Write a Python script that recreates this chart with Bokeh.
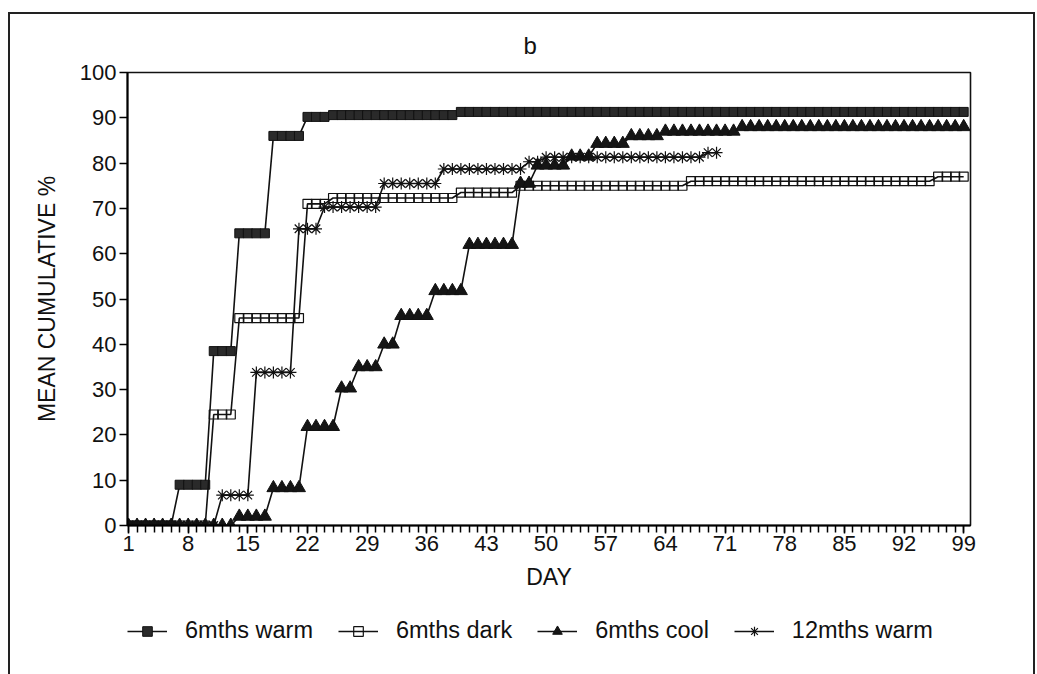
from bokeh.plotting import figure
from bokeh.layouts import column
from bokeh.models import FixedTicker, Legend, LegendItem, Range1d
from bokeh.embed import file_html
from bokeh.resources import INLINE

# ---------------- data ----------------
days = list(range(1, 100))
days_12 = list(range(1, 71))

warm_6m = [0, 0, 0, 0, 0, 0, 9, 9, 9, 9,
           38.5, 38.5, 38.5, 64.5, 64.5, 64.5, 64.5, 86, 86, 86,
           86, 90.2, 90.2, 90.2, 90.6, 90.6, 90.6, 90.6, 90.6, 90.6,
           90.6, 90.6, 90.6, 90.6, 90.6, 90.6, 90.6, 90.6, 90.6, 91.3,
           91.3, 91.3, 91.3, 91.3, 91.3, 91.3, 91.3, 91.3, 91.3, 91.3,
           91.3, 91.3, 91.3, 91.3, 91.3, 91.3, 91.3, 91.3, 91.3, 91.3,
           91.3, 91.3, 91.3, 91.3, 91.3, 91.3, 91.3, 91.3, 91.3, 91.3,
           91.3, 91.3, 91.3, 91.3, 91.3, 91.3, 91.3, 91.3, 91.3, 91.3,
           91.3, 91.3, 91.3, 91.3, 91.3, 91.3, 91.3, 91.3, 91.3, 91.3,
           91.3, 91.3, 91.3, 91.3, 91.3, 91.3, 91.3, 91.3, 91.3]

dark_6m = [0, 0, 0, 0, 0, 0, 0, 0, 0, 0,
           24.5, 24.5, 24.5, 45.8, 45.8, 45.8, 45.8, 45.8, 45.8, 45.8,
           45.8, 71, 71, 71, 72.3, 72.3, 72.3, 72.3, 72.3, 72.3,
           72.3, 72.3, 72.3, 72.3, 72.3, 72.3, 72.3, 72.3, 72.3, 73.5,
           73.5, 73.5, 73.5, 73.5, 73.5, 73.5, 75, 75, 75, 75,
           75, 75, 75, 75, 75, 75, 75, 75, 75, 75,
           75, 75, 75, 75, 75, 75, 76, 76, 76, 76,
           76, 76, 76, 76, 76, 76, 76, 76, 76, 76,
           76, 76, 76, 76, 76, 76, 76, 76, 76, 76,
           76, 76, 76, 76, 76, 77, 77, 77, 77]

cool_6m = [0, 0, 0, 0, 0, 0, 0, 0, 0, 0,
           0, 0, 0, 2, 2, 2, 2, 8.3, 8.3, 8.3,
           8.3, 21.8, 21.8, 21.8, 21.8, 30.3, 30.3, 35, 35, 35,
           40, 40, 46.3, 46.3, 46.3, 46.3, 51.8, 51.8, 51.8, 51.8,
           62, 62, 62, 62, 62, 62, 75.5, 75.5, 79.5, 79.5,
           79.5, 79.5, 81.5, 81.5, 81.5, 84.3, 84.3, 84.3, 84.3, 86,
           86, 86, 86, 87, 87, 87, 87, 87, 87, 87,
           87, 87, 88, 88, 88, 88, 88, 88, 88, 88,
           88, 88, 88, 88, 88, 88, 88, 88, 88, 88,
           88, 88, 88, 88, 88, 88, 88, 88, 88]

warm_12m = [0, 0, 0, 0, 0, 0, 0, 0, 0, 0,
            0, 6.7, 6.7, 6.7, 6.7, 33.8, 33.8, 33.8, 33.8, 33.8,
            65.5, 65.5, 65.5, 70.3, 70.3, 70.3, 70.3, 70.3, 70.3, 70.3,
            75.5, 75.5, 75.5, 75.5, 75.5, 75.5, 75.5, 78.7, 78.7, 78.7,
            78.7, 78.7, 78.7, 78.7, 78.7, 78.7, 78.7, 80.3, 80.3, 81.3,
            81.3, 81.3, 81.3, 81.3, 81.3, 81.3, 81.3, 81.3, 81.3, 81.3,
            81.3, 81.3, 81.3, 81.3, 81.3, 81.3, 81.3, 81.3, 82.3, 82.3]

x_tick_values = [1, 8, 15, 22, 29, 36, 43, 50, 57, 64, 71, 78, 85, 92, 99]
y_tick_values = [0, 10, 20, 30, 40, 50, 60, 70, 80, 90, 100]

series_labels = ["6mths warm", "6mths dark", "6mths cool", "12mths warm"]

FONT = "Liberation Sans"
INK = "#111"

series_styles = [
    dict(marker="square", size=9, fill_color="#2a2a2a", line_width=1),
    dict(marker="square", size=9, fill_color=None, line_width=1.2),
    dict(marker="triangle", size=13, fill_color="#151515", line_width=1),
    dict(marker="asterisk", size=12, line_width=1.2),
]

# ---------------- main figure ----------------
p = figure(width=1023, height=586,
           x_range=Range1d(0.88, 99.8), y_range=Range1d(0, 100),
           output_backend="svg", toolbar_location=None,
           min_border_left=117, min_border_right=63,
           min_border_top=58, min_border_bottom=75)

p.background_fill_color = "white"
p.border_fill_color = "white"
p.outline_line_color = INK
p.outline_line_width = 1.6
p.xgrid.visible = False
p.ygrid.visible = False

# title
p.title.text = "b"
p.title.align = "left"
p.title.offset = 396
p.title.text_font = FONT
p.title.text_font_size = "24px"
p.title.text_font_style = "normal"
p.title.text_color = INK
p.title.text_line_height = 1.0
p.title.standoff = 28

# x axis
xa = p.xaxis[0]
xa.ticker = FixedTicker(ticks=x_tick_values, minor_ticks=days)
xa.major_tick_in = 0
xa.major_tick_out = 8
xa.minor_tick_in = 0
xa.minor_tick_out = 7
xa.major_tick_line_width = 1.5
xa.minor_tick_line_width = 1.5
xa.axis_line_width = 2
xa.major_label_text_font = FONT
xa.major_label_text_font_size = "22px"
xa.major_label_standoff = 2
xa.major_label_text_color = INK
xa.axis_label = "DAY"
xa.axis_label_text_font = FONT
xa.axis_label_text_font_size = "23px"
xa.axis_label_text_font_style = "normal"
xa.axis_label_standoff = 10
xa.axis_label_text_color = INK

# y axis
ya = p.yaxis[0]
ya.ticker = FixedTicker(ticks=y_tick_values, minor_ticks=[])
ya.major_tick_in = 0
ya.major_tick_out = 8
ya.minor_tick_in = 0
ya.minor_tick_out = 0
ya.major_tick_line_width = 1.5
ya.axis_line_width = 2
ya.major_label_text_font = FONT
ya.major_label_text_font_size = "22px"
ya.major_label_standoff = 3
ya.major_label_text_color = INK
ya.axis_label = "MEAN CUMULATIVE %"
ya.axis_label_text_font = FONT
ya.axis_label_text_font_size = "23px"
ya.axis_label_text_font_style = "normal"
ya.axis_label_standoff = 17
ya.axis_label_text_color = INK

# ---------------- series ----------------
series_x = [days, days, days, days_12]
series_y = [warm_6m, dark_6m, cool_6m, warm_12m]

for xs, ys, st in zip(series_x, series_y, series_styles):
    p.line(xs, ys, line_color=INK, line_width=1.6)
    p.scatter(xs, ys, line_color=INK, **st)

# ---------------- legend strip ----------------
# ranges chosen so that the swatch renderers' own points fall outside the strip
q = figure(width=1023, height=74, x_range=Range1d(-10, -9), y_range=Range1d(-10, -9),
           output_backend="svg", toolbar_location=None,
           x_axis_type=None, y_axis_type=None,
           min_border=0, min_border_left=0, min_border_right=0,
           min_border_top=0, min_border_bottom=0)
q.outline_line_color = None
q.xgrid.visible = False
q.ygrid.visible = False
q.background_fill_color = "white"
q.border_fill_color = "white"

items = []
for label, xs, ys, st in zip(series_labels, series_x, series_y, series_styles):
    rl = q.line(xs[:2], ys[:2], line_color=INK, line_width=1.6)
    rs = q.scatter(xs[:1], ys[:1], line_color=INK, **st)
    items.append(LegendItem(label=label, renderers=[rl, rs], index=0))

legend = Legend(items=items, orientation="horizontal", location=(0, 30),
                label_text_font=FONT, label_text_font_size="23.5px",
                label_text_color=INK,
                glyph_width=40, glyph_height=24, label_height=24,
                label_standoff=18, spacing=25, padding=0, margin=0,
                border_line_color=None, background_fill_alpha=0)
q.add_layout(legend)

layout = column(p, q, spacing=0)
layout.margin = (12, 0, 0, 8)
layout.styles = {"border-left": "2px solid #222", "border-top": "2px solid #222",
                 "border-right": "2px solid #222"}

open("out.html", "w").write(file_html(layout, INLINE))
